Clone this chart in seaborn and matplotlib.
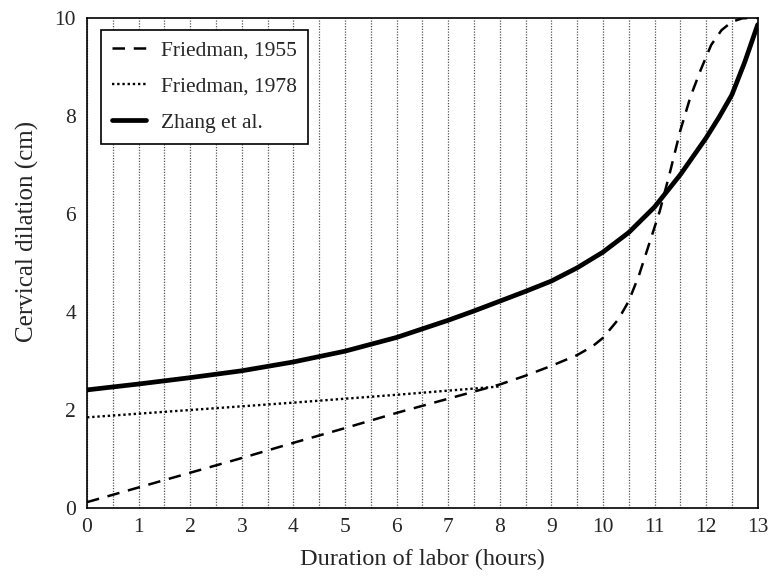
import numpy as np
import seaborn as sns
import matplotlib.pyplot as plt

# curvas
horas_1955 = [0, 1, 2, 3, 4, 5, 6, 7, 8, 8.5, 9, 9.5, 9.8, 10, 10.3, 10.5, 10.7, 10.9,
              11.1, 11.3, 11.5, 11.7, 11.9, 12.1, 12.3, 12.5, 12.7, 12.9, 13]
dilat_1955 = [0.12, 0.42, 0.72, 1.02, 1.33, 1.63, 1.94, 2.23, 2.52, 2.7, 2.9, 3.12, 3.3, 3.47,
              3.85, 4.22, 4.75, 5.4, 6.05, 6.85, 7.7, 8.4, 8.95, 9.45, 9.75, 9.92, 9.99, 10.0, 10.0]

horas_1978 = [0, 2, 4, 6, 8]
dilat_1978 = [1.85, 2.0, 2.15, 2.31, 2.48]

horas_zhang = [0, 1, 2, 3, 4, 5, 6, 7, 7.5, 8, 8.5, 9, 9.5, 10, 10.5, 11, 11.5,
               12, 12.25, 12.5, 12.75, 13]
dilat_zhang = [2.41, 2.53, 2.66, 2.8, 2.98, 3.2, 3.48, 3.83, 4.02, 4.22, 4.42, 4.63, 4.9,
               5.22, 5.62, 6.14, 6.8, 7.55, 7.97, 8.43, 9.1, 9.86]

sns.set_style("white")
plt.rcParams['font.family'] = ['Liberation Serif', 'DejaVu Serif']

fig = plt.figure(figsize=(7.7, 5.76), dpi=100)
ax = fig.add_axes([0.113, 0.118, 0.871, 0.851])

sns.lineplot(x=horas_1955, y=dilat_1955, ax=ax, color='black', lw=1.8,
             linestyle=(0, (5, 3.5)), label='Friedman, 1955')
sns.lineplot(x=horas_1978, y=dilat_1978, ax=ax, color='black', lw=1.7,
             linestyle=(0, (1, 1.2)), label='Friedman, 1978')
sns.lineplot(x=horas_zhang, y=dilat_zhang, ax=ax, color='black', lw=3.4,
             label='Zhang et al.')

ax.set_xlim(0, 13)
ax.set_ylim(0, 10)
ax.set_xticks(range(0, 14))
ax.set_xticks(np.arange(0.5, 13, 1), minor=True)
ax.set_yticks(range(0, 11, 2))
ax.tick_params(axis='both', which='both', length=0, labelsize=15.5)
ax.tick_params(axis='x', pad=7)
ax.tick_params(axis='y', pad=8)
ax.xaxis.grid(True, which='both', color='#555555', linestyle=(0, (1, 1.2)), lw=0.9)
ax.yaxis.grid(False)
for s in ax.spines.values():
    s.set_color('black')
    s.set_linewidth(1.2)

ax.set_xlabel('Duration of labor (hours)', fontsize=17.5, labelpad=9)
ax.set_ylabel('Cervical dilation (cm)', fontsize=18)
ax.yaxis.set_label_coords(-0.071, 0.565)

# legenda
leg = ax.legend(loc='upper left', bbox_to_anchor=(0.021, 0.976), borderaxespad=0,
                fontsize=15.5, fancybox=False, framealpha=1, edgecolor='black',
                handlelength=1.6, handletextpad=0.7, labelspacing=0.75,
                borderpad=0.5)
leg.get_frame().set_linewidth(1.2)

plt.savefig('out.png', dpi=100)
